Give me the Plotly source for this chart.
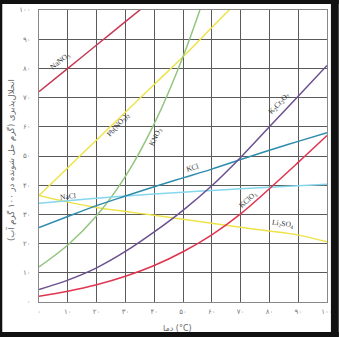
import plotly.graph_objects as go

# ---- data ----
temps = [0, 10, 20, 30, 40, 50, 60, 70, 80, 90, 100]

nano3_t = [0, 10, 20, 30, 40]
nano3_s = [72, 80, 88, 96, 104]

pbno3_t = [0, 10, 20, 30, 40, 50, 60, 70]
pbno3_s = [36.5, 46, 55.5, 65, 74.5, 84, 94, 104]

kno3_t = [0, 10, 20, 30, 40, 50, 60]
kno3_s = [12, 19.5, 29.5, 43, 61, 84, 112]

kcl_s = [25.5, 29.3, 33, 36.3, 39.5, 42.5, 45.5, 48.8, 52, 55, 58]
nacl_s = [33.8, 34.7, 35.5, 36.3, 37, 37.6, 38.2, 38.8, 39.3, 39.8, 40.3]
k2cr2o7_s = [4.3, 7.5, 11.7, 17.3, 24, 31.4, 39.8, 49.5, 60, 70.5, 81]
kclo3_s = [2, 3.7, 5.9, 8.8, 12.5, 17.2, 23, 30.2, 38.8, 47.8, 57]
li2so4_s = [36.5, 34.2, 32.4, 31, 29.7, 28.3, 27, 25.6, 24.3, 22.9, 20.6]

fa = str.maketrans("0123456789", "۰۱۲۳۴۵۶۷۸۹")
tick_vals = list(range(0, 101, 10))
tick_text = [str(v).translate(fa) for v in tick_vals]

series = [
    ("NaNO3", nano3_t, nano3_s, "#c63a55"),
    ("Pb(NO3)2", pbno3_t, pbno3_s, "#eee34a"),
    ("Li2SO4", temps, li2so4_s, "#eee34a"),
    ("KNO3", kno3_t, kno3_s, "#92c67e"),
    ("NaCl", temps, nacl_s, "#86d6ee"),
    ("KCl", temps, kcl_s, "#2e8cae"),
    ("K2Cr2O7", temps, k2cr2o7_s, "#6b5090"),
    ("KClO3", temps, kclo3_s, "#e0344e"),
]

labels = [
    ("NaNO<sub>3</sub>", 7.5, 82.5, -39),
    ("Pb(NO<sub>3</sub>)<sub>2</sub>", 27.5, 60.5, -48),
    ("KNO<sub>3</sub>", 40.5, 56.5, -65),
    ("KCl", 53.4, 46.2, -17),
    ("NaCl", 9.9, 36.2, -6),
    ("K<sub>2</sub>Cr<sub>2</sub>O<sub>7</sub>", 83.6, 68, -47),
    ("KClO<sub>3</sub>", 72.6, 34.8, -42),
    ("Li<sub>2</sub>SO<sub>4</sub>", 84.7, 26.8, 8),
]

fig = go.Figure()
for name, t, s, c in series:
    fig.add_trace(go.Scatter(x=t, y=s, mode="lines", name=name,
                             line=dict(color=c, width=1.5, shape="spline", smoothing=1),
                             hoverinfo="skip", showlegend=False))

for txt, x, y, ang in labels:
    fig.add_annotation(x=x, y=y, xref="x", yref="y", text=txt, showarrow=False,
                       textangle=ang, font=dict(family="Liberation Serif", size=7.5, color="#333"))

# axis titles
fig.add_annotation(xref="paper", yref="paper", x=(10 - 39) / 294.0, y=(302 - 160) / 293.0,
                   xanchor="center", yanchor="middle",
                   text="انحلال‌پذیری (گرم حل شونده در ۱۰۰ گرم آب)", showarrow=False,
                   textangle=-90, font=dict(family="DejaVu Sans", size=8.5, color="rgb(100,100,100)"))
fig.add_annotation(xref="paper", yref="paper", x=(180 - 39) / 294.0, y=(302 - 329) / 293.0,
                   xanchor="center", yanchor="middle",
                   text="دما (°C)", showarrow=False,
                   font=dict(family="DejaVu Sans", size=8, color="rgb(100,100,100)"))

def px(x):
    return (x - 39) / 294.0

def py(y):
    return (302 - y) / 293.0

border = [
    (px(-5), py(3), px(345), py(-5)),      # top
    (px(-5), py(345), px(345), py(332)),   # bottom
    (px(-5), py(345), px(1.5), py(-5)),    # left
    (px(337), py(345), px(345), py(-5)),   # right
]
for x0, y0, x1, y1 in border:
    fig.add_shape(type="rect", xref="paper", yref="paper", x0=x0, y0=y0, x1=x1, y1=y1,
                  fillcolor="#111", line=dict(width=0), layer="above")

axis_common = dict(range=[0, 100], tickvals=tick_vals, ticktext=tick_text,
                   showgrid=True, gridcolor="#5a5a5a", gridwidth=1.2,
                   showline=True, linecolor="#888", linewidth=1, mirror=True,
                   zeroline=False, ticks="", fixedrange=True,
                   tickfont=dict(family="DejaVu Sans", size=7, color="rgb(120,120,120)"))

fig.update_layout(
    width=339, height=337,
    margin=dict(l=39, r=6, t=9, b=35),
    paper_bgcolor="white", plot_bgcolor="white",
    xaxis=dict(**axis_common, ticklabelstandoff=3),
    yaxis=dict(**axis_common, ticklabelstandoff=6),
)

fig.write_html("out.html")
